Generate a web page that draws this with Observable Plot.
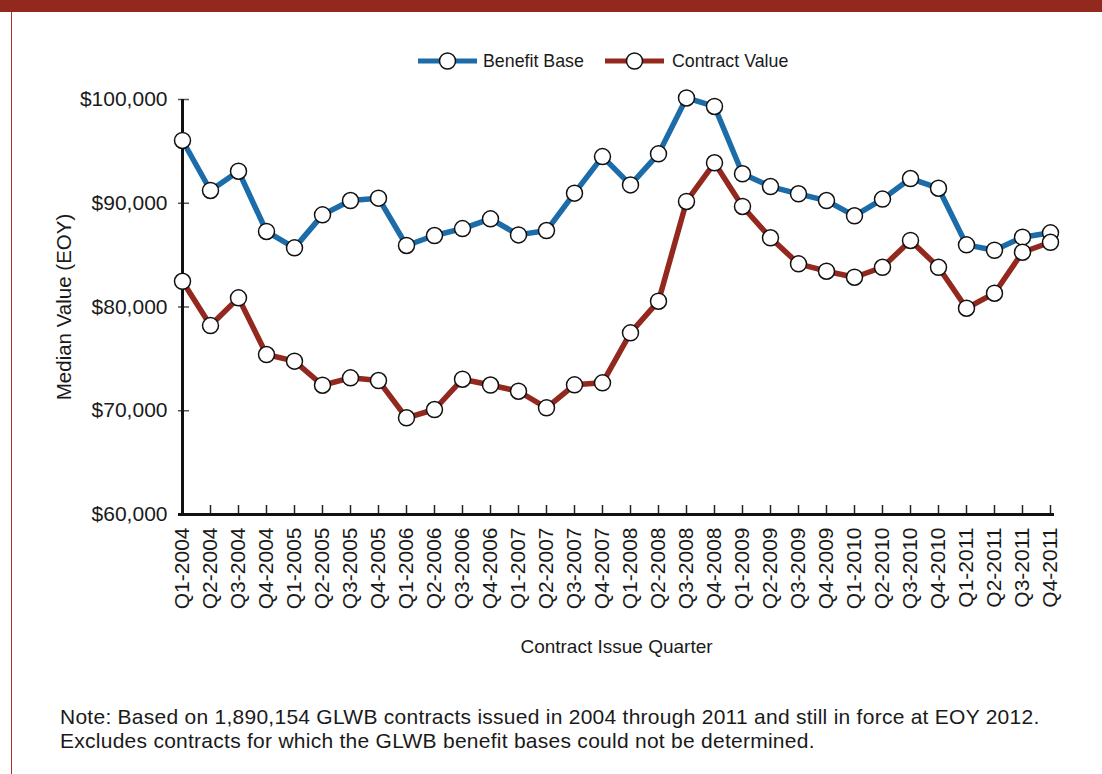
<!DOCTYPE html>
<html>
<head>
<meta charset="utf-8">
<script src="https://cdn.jsdelivr.net/npm/d3@7"></script>
<script src="https://cdn.jsdelivr.net/npm/@observablehq/plot@0.6"></script>
<style>
  html, body { margin: 0; padding: 0; background: #fff; }
  body { width: 1102px; height: 774px; position: relative; overflow: hidden;
         font-family: "Liberation Sans", Arial, sans-serif; color: #1a1a1a; }
  #band { position: absolute; left: 0; top: 0; width: 1102px; height: 12px; background: #93281f; }
  #leftline { position: absolute; left: 11px; top: 12px; width: 1px; height: 762px; background: #a8302a; }
  #chart { position: absolute; left: 0; top: 0; }
  .leg { position: absolute; top: 49px; height: 24px; display: flex; align-items: center; font-size: 17.8px; }
  .leg svg { display: block; }
  #note { position: absolute; left: 60px; top: 705px; font-size: 21px; letter-spacing: 0.26px; line-height: 24px; white-space: nowrap; }
</style>
</head>
<body>
<div id="band"></div>
<div id="leftline"></div>
<div id="chart"></div>
<div id="legend"></div>
<div id="note"></div>
<script>
const quarters = [
  "Q1-2004","Q2-2004","Q3-2004","Q4-2004",
  "Q1-2005","Q2-2005","Q3-2005","Q4-2005",
  "Q1-2006","Q2-2006","Q3-2006","Q4-2006",
  "Q1-2007","Q2-2007","Q3-2007","Q4-2007",
  "Q1-2008","Q2-2008","Q3-2008","Q4-2008",
  "Q1-2009","Q2-2009","Q3-2009","Q4-2009",
  "Q1-2010","Q2-2010","Q3-2010","Q4-2010",
  "Q1-2011","Q2-2011","Q3-2011","Q4-2011"
];
const benefitBase = [96050, 91230, 93090, 87280, 85700, 88880, 90260, 90490, 85930, 86890, 87560, 88500, 86950, 87370, 90970, 94500, 91770, 94760, 100150, 99330, 92840, 91610, 90910, 90260, 88790, 90400, 92380, 91450, 85990, 85470, 86730, 87150];
const contractValue = [82480, 78210, 80880, 75420, 74780, 72460, 73170, 72910, 69320, 70120, 73040, 72480, 71880, 70280, 72500, 72690, 77510, 80560, 90170, 93900, 89690, 86670, 84160, 83450, 82870, 83830, 86410, 83830, 79880, 81330, 85280, 86240];
const seriesNames = ["Benefit Base", "Contract Value"];
const seriesColors = ["#1b6ca8", "#93281f"];
const yTicks = [60000, 70000, 80000, 90000, 100000];
const yLabel = "Median Value (EOY)";
const xLabel = "Contract Issue Quarter";
const noteLines = [
  "Note: Based on 1,890,154 GLWB contracts issued in 2004 through 2011 and still in force at EOY 2012.",
  "Excludes contracts for which the GLWB benefit bases could not be determined."
];

const rows = [];
quarters.forEach((q, i) => {
  rows.push({quarter: q, series: seriesNames[0], value: benefitBase[i]});
  rows.push({quarter: q, series: seriesNames[1], value: contractValue[i]});
});

const fmt = d => "$" + d3.format(",")(d);
const fontFam = '"Liberation Sans", Arial, sans-serif';

const plot = Plot.plot({
  width: 1102,
  height: 680,
  marginLeft: 178,
  marginRight: 48,
  marginTop: 99,
  marginBottom: 166,
  style: {fontFamily: fontFam, fontSize: "21px", color: "#1a1a1a", background: "transparent"},
  x: {type: "point", domain: quarters, padding: 0},
  y: {domain: [60000, 100000]},
  color: {domain: seriesNames, range: seriesColors},
  marks: [
    Plot.line(rows, {x: "quarter", y: "value", z: "series", stroke: "series", strokeWidth: 5.5, strokeLinejoin: "round"}),
    Plot.axisY({ticks: yTicks, tickSize: -11, tickFormat: () => "", label: null, stroke: "#555", strokeWidth: 1.5}),
    Plot.axisY({ticks: yTicks, tickSize: 0, tickPadding: 11, tickFormat: fmt, fontSize: 21,
                label: yLabel, labelAnchor: "center", labelArrow: "none", labelOffset: 122}),
    Plot.axisX({tickSize: -9, tickFormat: () => "", label: null, strokeWidth: 1.5, stroke: "#222"}),
    Plot.axisX({tickSize: 0, tickPadding: 13, tickRotate: -90, fontSize: 21,
                label: xLabel, labelAnchor: "center", labelArrow: "none", labelOffset: 138}),
    Plot.ruleX([quarters[0]], {stroke: "#111", strokeWidth: 3}),
    Plot.ruleY([yTicks[0]], {stroke: "#111", strokeWidth: 3}),
    Plot.dot(rows, {x: "quarter", y: "value", r: 8, fill: "white", stroke: "#111", strokeWidth: 1.5})
  ]
});
document.getElementById("chart").appendChild(plot);
plot.querySelectorAll("g[aria-label='x-axis label'] text").forEach(t => t.setAttribute("font-size", "19px"));
plot.querySelectorAll("g[aria-label='y-axis label'] text").forEach(t => t.setAttribute("font-size", "20.5px"));

// legend
const legend = document.getElementById("legend");
const legendLeft = [418, 605];
seriesNames.forEach((name, i) => {
  const item = document.createElement("div");
  item.className = "leg";
  item.style.left = legendLeft[i] + "px";
  item.innerHTML = `<svg width="60" height="24"><line x1="0" y1="12" x2="59" y2="12" stroke="${seriesColors[i]}" stroke-width="5"/><circle cx="29.5" cy="12" r="8" fill="white" stroke="#111" stroke-width="1.5"/></svg><span style="margin-left:${i===0?5:7}px">${name}</span>`;
  legend.appendChild(item);
});

document.getElementById("note").innerHTML = noteLines.join("<br>");
</script>
</body>
</html>
